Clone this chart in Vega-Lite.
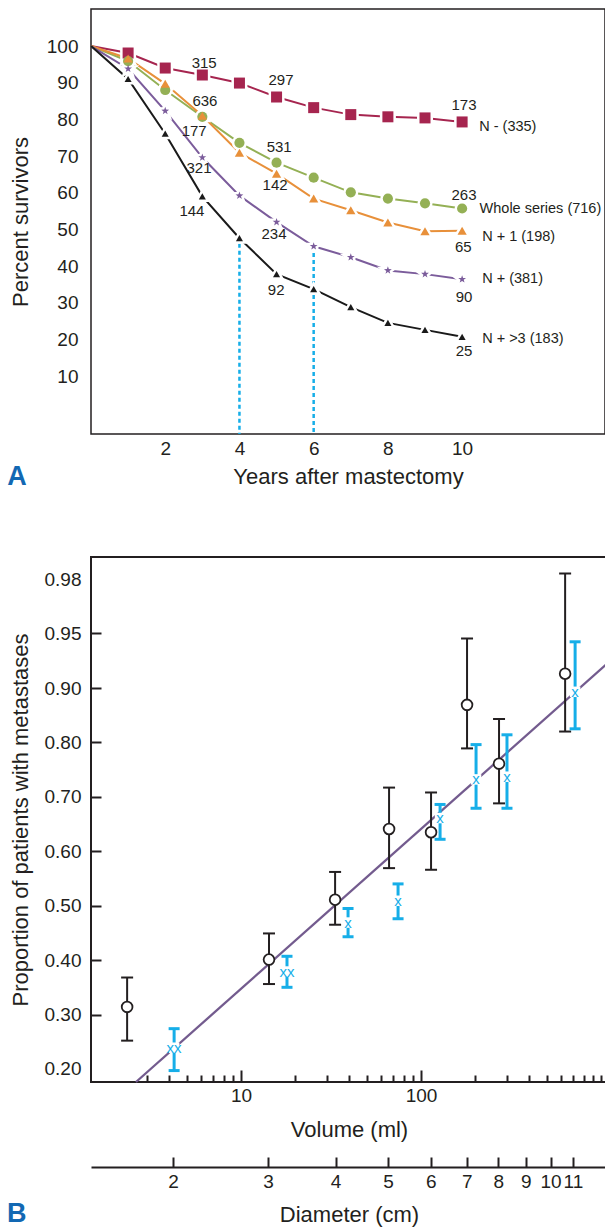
{
  "$schema": "https://vega.github.io/schema/vega-lite/v6.json",
  "background": "white",
  "padding": {"left": 6, "top": 8, "right": 0, "bottom": 0},
  "spacing": 65,
  "config": {
    "font": "Liberation Sans",
    "axis": {"labelFontSize": 19, "titleFontSize": 22, "titleFontWeight": "normal", "labelColor": "#231f20", "titleColor": "#231f20", "grid": false, "tickColor": "#231f20"}
  },
  "datasets": {
    "survival": [
      {"series": "N -", "year": 0, "pct": 100}, {"series": "N -", "year": 1, "pct": 98.1}, {"series": "N -", "year": 2, "pct": 94.0}, {"series": "N -", "year": 3, "pct": 92.1}, {"series": "N -", "year": 4, "pct": 89.9}, {"series": "N -", "year": 5, "pct": 86.1}, {"series": "N -", "year": 6, "pct": 83.2}, {"series": "N -", "year": 7, "pct": 81.3}, {"series": "N -", "year": 8, "pct": 80.7}, {"series": "N -", "year": 9, "pct": 80.4}, {"series": "N -", "year": 10, "pct": 79.3},
      {"series": "Whole series", "year": 0, "pct": 100}, {"series": "Whole series", "year": 1, "pct": 95.9}, {"series": "Whole series", "year": 2, "pct": 88.0}, {"series": "Whole series", "year": 3, "pct": 80.7}, {"series": "Whole series", "year": 4, "pct": 73.6}, {"series": "Whole series", "year": 5, "pct": 68.2}, {"series": "Whole series", "year": 6, "pct": 64.1}, {"series": "Whole series", "year": 7, "pct": 60.1}, {"series": "Whole series", "year": 8, "pct": 58.4}, {"series": "Whole series", "year": 9, "pct": 57.1}, {"series": "Whole series", "year": 10, "pct": 55.7},
      {"series": "N + 1", "year": 0, "pct": 100}, {"series": "N + 1", "year": 1, "pct": 96.6}, {"series": "N + 1", "year": 2, "pct": 89.7}, {"series": "N + 1", "year": 3, "pct": 81.0}, {"series": "N + 1", "year": 4, "pct": 70.9}, {"series": "N + 1", "year": 5, "pct": 65.2}, {"series": "N + 1", "year": 6, "pct": 58.4}, {"series": "N + 1", "year": 7, "pct": 55.2}, {"series": "N + 1", "year": 8, "pct": 51.9}, {"series": "N + 1", "year": 9, "pct": 49.5}, {"series": "N + 1", "year": 10, "pct": 49.6},
      {"series": "N +", "year": 0, "pct": 100}, {"series": "N +", "year": 1, "pct": 93.8}, {"series": "N +", "year": 2, "pct": 82.3}, {"series": "N +", "year": 3, "pct": 69.6}, {"series": "N +", "year": 4, "pct": 59.2}, {"series": "N +", "year": 5, "pct": 52.0}, {"series": "N +", "year": 6, "pct": 45.4}, {"series": "N +", "year": 7, "pct": 42.4}, {"series": "N +", "year": 8, "pct": 38.8}, {"series": "N +", "year": 9, "pct": 37.8}, {"series": "N +", "year": 10, "pct": 36.4},
      {"series": "N + >3", "year": 0, "pct": 100}, {"series": "N + >3", "year": 1, "pct": 91.0}, {"series": "N + >3", "year": 2, "pct": 76.1}, {"series": "N + >3", "year": 3, "pct": 59.0}, {"series": "N + >3", "year": 4, "pct": 47.6}, {"series": "N + >3", "year": 5, "pct": 37.8}, {"series": "N + >3", "year": 6, "pct": 33.7}, {"series": "N + >3", "year": 7, "pct": 28.8}, {"series": "N + >3", "year": 8, "pct": 24.5}, {"series": "N + >3", "year": 9, "pct": 22.6}, {"series": "N + >3", "year": 10, "pct": 20.7}
    ],
    "guides": [{"year": 4, "pct": 48.0}, {"year": 6, "pct": 47.4}],
    "notes": [
      {"year": 3.05, "pct": 95.4, "label": "315"},
      {"year": 5.12, "pct": 90.7, "label": "297"},
      {"year": 10.05, "pct": 83.9, "label": "173"},
      {"year": 3.07, "pct": 85.0, "label": "636"},
      {"year": 2.78, "pct": 76.8, "label": "177"},
      {"year": 2.91, "pct": 66.7, "label": "321"},
      {"year": 2.72, "pct": 55.0, "label": "144"},
      {"year": 5.07, "pct": 72.5, "label": "531"},
      {"year": 4.96, "pct": 62.1, "label": "142"},
      {"year": 4.93, "pct": 48.7, "label": "234"},
      {"year": 4.99, "pct": 33.5, "label": "92"},
      {"year": 10.05, "pct": 59.4, "label": "263"},
      {"year": 10.03, "pct": 45.2, "label": "65"},
      {"year": 10.05, "pct": 31.6, "label": "90"},
      {"year": 10.05, "pct": 16.8, "label": "25"}
    ],
    "serieslabels": [
      {"year": 10.46, "pct": 77.9, "label": "N - (335)"},
      {"year": 10.47, "pct": 55.5, "label": "Whole series (716)"},
      {"year": 10.54, "pct": 47.9, "label": "N + 1 (198)"},
      {"year": 10.54, "pct": 36.5, "label": "N + (381)"},
      {"year": 10.54, "pct": 20.1, "label": "N + >3 (183)"}
    ],
    "fit": [{"vol": 2.61, "p": 0.176}, {"vol": 1078, "p": 0.922}],
    "black": [
      {"vol": 2.33, "p": 0.314, "lo": 0.252, "hi": 0.368},
      {"vol": 14.3, "p": 0.401, "lo": 0.356, "hi": 0.449},
      {"vol": 33.3, "p": 0.511, "lo": 0.465, "hi": 0.562},
      {"vol": 66.4, "p": 0.641, "lo": 0.569, "hi": 0.717},
      {"vol": 113.6, "p": 0.635, "lo": 0.566, "hi": 0.708},
      {"vol": 180, "p": 0.869, "lo": 0.789, "hi": 0.945},
      {"vol": 271, "p": 0.761, "lo": 0.688, "hi": 0.843},
      {"vol": 631, "p": 0.913, "lo": 0.820, "hi": 0.983}
    ],
    "blue": [
      {"vol": 4.25, "p": 0.239, "lo": 0.197, "hi": 0.274, "mark": "xx"},
      {"vol": 18.0, "p": 0.379, "lo": 0.350, "hi": 0.407, "mark": "xx"},
      {"vol": 39.3, "p": 0.469, "lo": 0.443, "hi": 0.495, "mark": "x"},
      {"vol": 74.5, "p": 0.509, "lo": 0.476, "hi": 0.540, "mark": "x"},
      {"vol": 127.5, "p": 0.661, "lo": 0.622, "hi": 0.686, "mark": "x"},
      {"vol": 202, "p": 0.732, "lo": 0.679, "hi": 0.796, "mark": "x"},
      {"vol": 300, "p": 0.737, "lo": 0.679, "hi": 0.814, "mark": "x"},
      {"vol": 717, "p": 0.893, "lo": 0.825, "hi": 0.942, "mark": "x"}
    ],
    "diam": [
      {"d": 2, "vol": 4.18879}, {"d": 3, "vol": 14.1372}, {"d": 4, "vol": 33.5103}, {"d": 5, "vol": 65.4498}, {"d": 6, "vol": 113.097},
      {"d": 7, "vol": 179.594}, {"d": 8, "vol": 268.083}, {"d": 9, "vol": 381.704}, {"d": 10, "vol": 523.599}, {"d": 11, "vol": 696.910}
    ]
  },
  "vconcat": [
    {
      "width": 514,
      "height": 425,
      "view": {"stroke": "#231f20", "strokeWidth": 1.5},
      "title": {"text": "A", "orient": "bottom", "anchor": "start", "frame": "bounds", "font": "Liberation Sans", "fontSize": 27, "fontWeight": "bold", "color": "#1268b3", "offset": 0, "dy": -23, "dx": -2},
      "layer": [
        {
          "data": {"name": "guides"},
          "mark": {"type": "rule", "color": "#16aee8", "strokeWidth": 2.5, "strokeDash": [4, 3]},
          "encoding": {
            "x": {"field": "year", "type": "quantitative", "scale": {"domain": [0, 13.85], "nice": false, "zero": false},
                  "axis": {"values": [2, 4, 6, 8, 10], "ticks": false, "domain": false, "labelPadding": 5, "title": "Years after mastectomy", "titlePadding": 8}},
            "y": {"field": "pct", "type": "quantitative", "scale": {"domain": [-5.8, 110.1], "nice": false, "zero": false},
                  "axis": {"values": [10, 20, 30, 40, 50, 60, 70, 80, 90, 100], "ticks": false, "domain": false, "labelPadding": 13, "title": "Percent survivors", "titlePadding": 14}},
            "y2": {"datum": -5.8}
          }
        },
        {
          "data": {"name": "survival"},
          "mark": {"type": "line", "strokeWidth": 2},
          "encoding": {
            "x": {"field": "year", "type": "quantitative"},
            "y": {"field": "pct", "type": "quantitative"},
            "color": {"field": "series", "type": "nominal", "legend": null,
                      "scale": {"domain": ["N -", "Whole series", "N + 1", "N +", "N + >3"], "range": ["#a6254f", "#94b055", "#e8903a", "#7b5c9b", "#1a1a1a"]}}
          }
        },
        {
          "data": {"name": "survival"},
          "transform": [{"filter": "datum.year > 0"}],
          "mark": {"type": "point", "filled": true, "color": "white", "stroke": "white", "strokeWidth": 5, "opacity": 1},
          "encoding": {
            "x": {"field": "year", "type": "quantitative"},
            "y": {"field": "pct", "type": "quantitative"},
            "shape": {"field": "series", "type": "nominal", "legend": null,
                      "scale": {"domain": ["N -", "Whole series", "N + 1", "N +", "N + >3"], "range": ["square", "circle", "triangle-up", "M0,-1L0.235,-0.324L0.951,-0.309L0.38,0.124L0.588,0.809L0,0.4L-0.588,0.809L-0.38,0.124L-0.951,-0.309L-0.235,-0.324Z", "triangle-up"]}},
            "size": {"field": "series", "type": "ordinal", "legend": null,
                     "scale": {"domain": ["N -", "Whole series", "N + 1", "N +", "N + >3"], "range": [121, 50, 120, 70, 155]}}
          }
        },
        {
          "data": {"name": "survival"},
          "transform": [{"filter": "datum.year > 0"}],
          "mark": {"type": "point", "filled": true, "opacity": 1},
          "encoding": {
            "x": {"field": "year", "type": "quantitative"},
            "y": {"field": "pct", "type": "quantitative"},
            "color": {"field": "series", "type": "nominal", "legend": null},
            "shape": {"field": "series", "type": "nominal", "legend": null},
            "size": {"field": "series", "type": "ordinal", "legend": null}
          }
        },
        {
          "data": {"name": "notes"},
          "mark": {"type": "text", "fontSize": 15, "color": "#231f20", "align": "center", "baseline": "middle"},
          "encoding": {
            "x": {"field": "year", "type": "quantitative"},
            "y": {"field": "pct", "type": "quantitative"},
            "text": {"field": "label"}
          }
        },
        {
          "data": {"name": "serieslabels"},
          "mark": {"type": "text", "fontSize": 14.5, "color": "#231f20", "align": "left", "baseline": "middle"},
          "encoding": {
            "x": {"field": "year", "type": "quantitative"},
            "y": {"field": "pct", "type": "quantitative"},
            "text": {"field": "label"}
          }
        }
      ]
    },
    {
      "width": 516,
      "height": 525,
      "view": {"stroke": "#231f20", "strokeWidth": 2},
      "title": {"text": "B", "orient": "bottom", "anchor": "start", "frame": "bounds", "font": "Liberation Sans", "fontSize": 27, "fontWeight": "bold", "color": "#1268b3", "offset": 0, "dy": -24, "dx": -2},
      "resolve": {"axis": {"x": "independent"}},
      "layer": [
        {
          "layer": [
            {
              "data": {"name": "fit"},
              "mark": {"type": "line", "color": "#735b8e", "strokeWidth": 2.3},
              "encoding": {
                "x": {"field": "vol", "type": "quantitative", "scale": {"type": "log", "domain": [1.468, 1078], "nice": false},
                      "axis": {"values": [3, 4, 5, 6, 7, 8, 9, 10, 20, 30, 40, 50, 60, 70, 80, 90, 100, 200, 300, 400, 500, 600, 700, 800, 900, 1000],
                               "labelExpr": "datum.value == 10 ? '10' : datum.value == 100 ? '100' : ''",
                               "tickSize": {"condition": {"test": "datum.value == 10 || datum.value == 100", "value": -12}, "value": -7},
                               "tickWidth": 2, "domain": false, "labelPadding": 16, "labelOverlap": false, "labelFlush": false,
                               "title": "Volume (ml)", "titlePadding": 9}},
                "y": {"field": "p", "type": "quantitative",
                      "scale": {"domain": [0.176, 0.9, 0.95, 0.98, 0.992], "range": [525, 131, 76, 22, 0], "nice": false, "zero": false},
                      "axis": {"values": [0.2, 0.3, 0.4, 0.5, 0.6, 0.7, 0.8, 0.9, 0.95, 0.98], "format": ".2f",
                               "tickSize": -10, "tickWidth": 2,
                               "tickOpacity": {"condition": {"test": "datum.value > 0.97 || datum.value < 0.25", "value": 0}, "value": 1},
                               "domain": false, "labelPadding": 20, "labelOverlap": false, "labelFlush": false,
                               "title": "Proportion of patients with metastases", "titlePadding": 12}}
              }
            },
            {
              "data": {"name": "black"},
              "mark": {"type": "rule", "color": "#231f20", "strokeWidth": 2},
              "encoding": {
                "x": {"field": "vol", "type": "quantitative"},
                "y": {"field": "lo", "type": "quantitative"},
                "y2": {"field": "hi"}
              }
            },
            {
              "data": {"name": "black"},
              "mark": {"type": "tick", "orient": "horizontal", "color": "#231f20", "size": 12, "thickness": 2, "opacity": 1},
              "encoding": {
                "x": {"field": "vol", "type": "quantitative"},
                "y": {"field": "lo", "type": "quantitative"}
              }
            },
            {
              "data": {"name": "black"},
              "mark": {"type": "tick", "orient": "horizontal", "color": "#231f20", "size": 12, "thickness": 2, "opacity": 1},
              "encoding": {
                "x": {"field": "vol", "type": "quantitative"},
                "y": {"field": "hi", "type": "quantitative"}
              }
            },
            {
              "data": {"name": "black"},
              "mark": {"type": "point", "shape": "circle", "filled": false, "fill": "white", "stroke": "#231f20", "strokeWidth": 1.8, "size": 115, "opacity": 1},
              "encoding": {
                "x": {"field": "vol", "type": "quantitative"},
                "y": {"field": "p", "type": "quantitative"}
              }
            },
            {
              "data": {"name": "blue"},
              "mark": {"type": "rule", "color": "#16aee8", "strokeWidth": 3},
              "encoding": {
                "x": {"field": "vol", "type": "quantitative"},
                "y": {"field": "lo", "type": "quantitative"},
                "y2": {"field": "hi"}
              }
            },
            {
              "data": {"name": "blue"},
              "mark": {"type": "tick", "orient": "horizontal", "color": "#16aee8", "size": 11, "thickness": 3, "opacity": 1},
              "encoding": {
                "x": {"field": "vol", "type": "quantitative"},
                "y": {"field": "lo", "type": "quantitative"}
              }
            },
            {
              "data": {"name": "blue"},
              "mark": {"type": "tick", "orient": "horizontal", "color": "#16aee8", "size": 11, "thickness": 3, "opacity": 1},
              "encoding": {
                "x": {"field": "vol", "type": "quantitative"},
                "y": {"field": "hi", "type": "quantitative"}
              }
            },
            {
              "data": {"name": "blue"},
              "mark": {"type": "point", "shape": "square", "filled": true, "color": "white", "size": 110, "opacity": 1},
              "encoding": {
                "x": {"field": "vol", "type": "quantitative"},
                "y": {"field": "p", "type": "quantitative"}
              }
            },
            {
              "data": {"name": "blue"},
              "mark": {"type": "text", "fontSize": 15, "color": "#16aee8", "align": "center", "baseline": "middle"},
              "encoding": {
                "x": {"field": "vol", "type": "quantitative"},
                "y": {"field": "p", "type": "quantitative"},
                "text": {"field": "mark"}
              }
            }
          ]
        },
        {
          "data": {"name": "diam"},
          "mark": {"type": "point", "opacity": 0},
          "encoding": {
            "x": {"field": "vol", "type": "quantitative", "scale": {"type": "log", "domain": [1.468, 1078], "nice": false},
                  "axis": {"orient": "bottom", "offset": 85,
                           "values": [4.18879, 14.1372, 33.5103, 65.4498, 113.097, 179.594, 268.083, 381.704, 523.599, 696.910],
                           "labelExpr": "format(pow(6 * datum.value / PI, 1/3), '.0f')",
                           "tickSize": -10, "tickWidth": 2, "domain": true, "domainWidth": 2, "domainColor": "#231f20",
                           "labelPadding": 15, "labelOverlap": false, "labelFlush": false,
                           "title": "Diameter (cm)", "titlePadding": 13}}
          }
        }
      ]
    }
  ]
}
